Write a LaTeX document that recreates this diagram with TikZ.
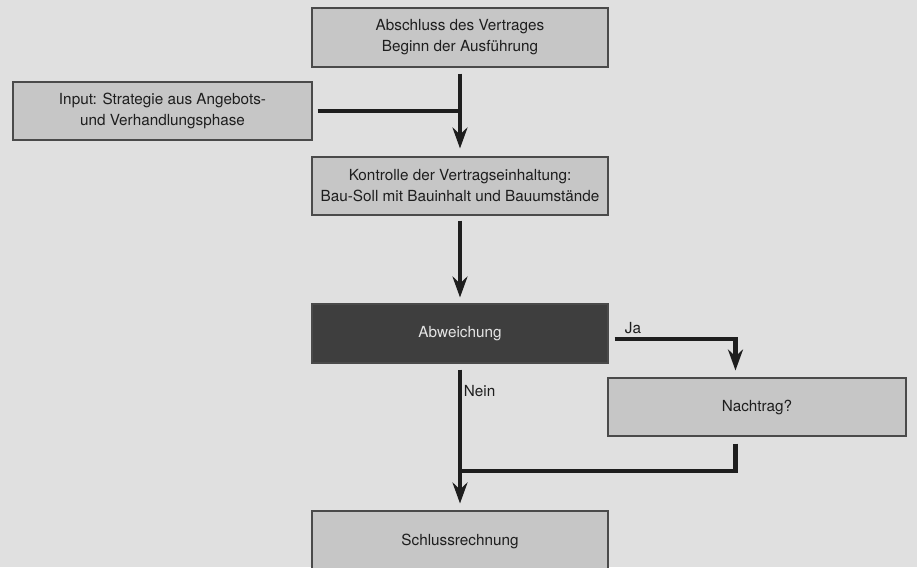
\documentclass[tikz,border=0pt]{standalone}
\usepackage{fontspec}
\setmainfont{TeX Gyre Heros}
\usetikzlibrary{arrows.meta}

\definecolor{paper}{HTML}{E0E0E0}
\definecolor{boxgray}{HTML}{C6C6C6}
\definecolor{boxdark}{HTML}{3E3E3E}
\definecolor{boxline}{HTML}{4A4A4A}
\definecolor{ink}{HTML}{1E1E1E}

\tikzset{
  stepbox/.style={draw=boxline, line width=0.6pt, fill=boxgray, text=ink,
    minimum width=5.92cm, minimum height=1.18cm, align=center, inner sep=1pt,
    font=\fontsize{8.7}{11.9}\selectfont},
  darkbox/.style={stepbox, fill=boxdark, text=white!90!black},
  flowline/.style={draw=ink, line width=2.3pt},
  flow/.style={flowline, -{Stealth[length=4.2mm,width=3mm,inset=1.4mm]}},
  tag/.style={font=\fontsize{8.7}{11.9}\selectfont, text=ink, inner sep=0pt}
}

\begin{document}
\begin{tikzpicture}
\fill[paper] (0,0) rectangle (18.34,-11.34);
\useasboundingbox (0,0) rectangle (18.34,-11.34);
\begin{scope}
\clip (0,0) rectangle (18.34,-11.34);

% boxes
\node[stepbox] (start) at (9.2,-0.75) {Abschluss des Vertrages\\Beginn der Ausführung};
\node[stepbox, minimum width=5.98cm, minimum height=1.16cm] (input) at (3.25,-2.22) {Input: Strategie aus Angebots-\\und Verhandlungsphase};
\node[stepbox, minimum height=1.16cm] (check) at (9.2,-3.72) {Kontrolle der Vertragseinhaltung:\\Bau-Soll mit Bauinhalt und Bauumstände};
\node[darkbox] (dev) at (9.2,-6.67) {Abweichung};
\node[stepbox, minimum width=5.96cm, minimum height=1.16cm] (suppl) at (15.14,-8.14) {Nachtrag?};
\node[stepbox, minimum height=1.2cm] (final) at (9.2,-10.82) {Schlussrechnung};

% connectors
\draw[flow, shorten <=0.12cm, shorten >=0.16cm] (start.south) -- (check.north);
\draw[flowline, shorten <=0.1cm] (input.east) -- (input.east -| start.south);
\draw[flow, shorten <=0.1cm, shorten >=0.12cm] (check.south) -- (dev.north);
\draw[flow, shorten <=0.12cm, shorten >=0.14cm] ([yshift=-0.11cm]dev.east) -| ([xshift=2.56cm]suppl.north west);
\node[tag, anchor=base west] (ja) at ([xshift=0.32cm]dev.east) {Ja};
\draw[flow, shorten <=0.12cm, shorten >=0.14cm] (dev.south) -- (final.north);
\node[tag, anchor=base west] (nein) at ([xshift=0.07cm, yshift=-0.66cm]dev.south) {Nein};
\path (dev.south |- suppl.south) ++(0,-0.68) coordinate (merge);
\draw[flowline, shorten <=0.14cm] ([xshift=2.56cm]suppl.south west) |- (merge);
\end{scope}
\end{tikzpicture}
\end{document}
